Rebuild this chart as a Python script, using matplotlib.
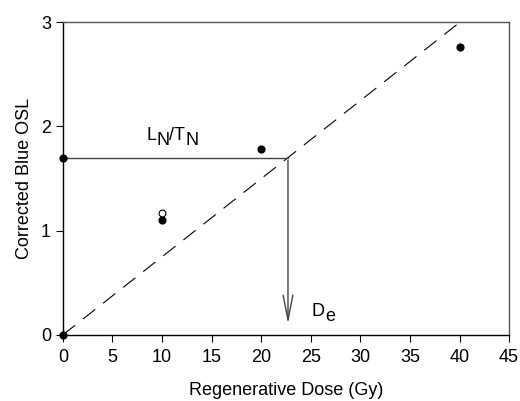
import matplotlib
matplotlib.use("Agg")
import matplotlib.pyplot as plt
from matplotlib.transforms import offset_copy

# data
dose_filled = [0, 0, 10, 20, 40]
osl_filled = [0.0, 1.70, 1.10, 1.78, 2.76]
dose_open = [10]
osl_open = [1.17]
ln_tn = 1.70
de = 22.7
fit_x = [0, 40]
slope = ln_tn / de

plt.rcParams['font.family'] = ['Liberation Sans', 'DejaVu Sans']
fig = plt.figure(figsize=(5.2, 4.01), dpi=100)
ax = fig.add_axes([0.121, 0.165, 0.858, 0.780])

ax.plot(fit_x, [slope * x for x in fit_x], color='black', lw=0.8,
        dashes=(14, 9))
ax.plot([0, de], [ln_tn, ln_tn], color='#444444', lw=1.0)
ax.annotate('', xy=(de, 0.08), xytext=(de, ln_tn),
            arrowprops=dict(arrowstyle='->,head_length=1.8,head_width=0.35',
                            color='#444444', lw=1.0))
ax.scatter(dose_filled, osl_filled, s=24, color='black', zorder=3, clip_on=False)
ax.scatter(dose_open, osl_open, s=24, facecolor='white', edgecolor='black',
           lw=0.8, zorder=3)

ax.set_xlim(0, 45)
ax.set_ylim(0, 3)
ax.set_xticks(range(0, 46, 5))
ax.set_yticks([0, 1, 2, 3])
ax.tick_params(direction='out', length=5, labelsize=13, width=0.8)
ax.tick_params(axis='x', pad=5.5)
for sp in ax.spines.values():
    sp.set_color('#555555')
    sp.set_linewidth(1.0)
ax.spines['bottom'].set_color('black')
ax.spines['left'].set_color('black')
ax.set_xlabel('Regenerative Dose (Gy)', fontsize=13, labelpad=11)
ax.set_ylabel('Corrected Blue OSL', fontsize=13, labelpad=6)


def sub_text(x, y, parts, size=13):
    """parts: list of (text, is_subscript)"""
    fig.canvas.draw()
    r = fig.canvas.get_renderer()
    dx = 0.0
    for txt, is_sub in parts:
        dy = -5 if is_sub else 0
        tr = offset_copy(ax.transData, fig=fig, x=dx, y=dy, units='dots')
        t = ax.text(x, y, txt, fontsize=size, transform=tr, va='baseline')
        dx += t.get_window_extent(r).width


sub_text(8.4, 1.87, [('L', False), ('N', True), ('/T', False), ('N', True)])
sub_text(25.1, 0.18, [('D', False), ('e', True)])

fig.savefig('out.png', dpi=100)
